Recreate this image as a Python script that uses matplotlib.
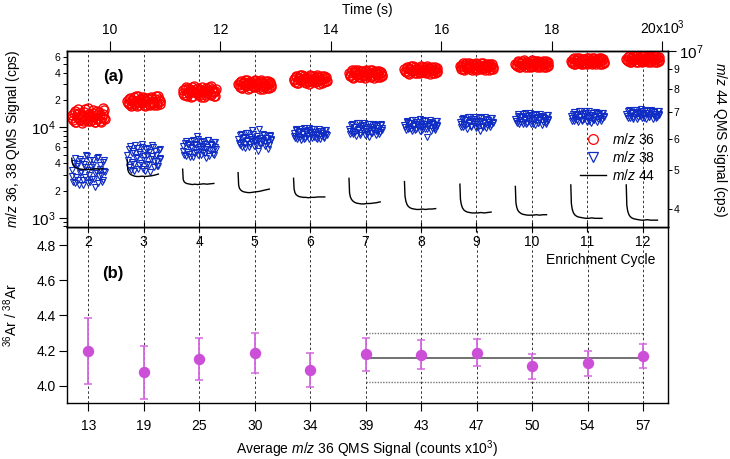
import numpy as np
import matplotlib
matplotlib.use('Agg')
import matplotlib.pyplot as plt
from matplotlib.lines import Line2D

plt.rcParams['font.family'] = ['Liberation Sans', 'DejaVu Sans']
plt.rcParams['mathtext.fontset'] = 'custom'
plt.rcParams['mathtext.rm'] = 'Liberation Sans'
plt.rcParams['mathtext.it'] = 'Liberation Sans:italic'
plt.rcParams['font.size'] = 10

# enrichment cycles and isotope ratio (panel b)
cycles = [2, 3, 4, 5, 6, 7, 8, 9, 10, 11, 12]
avg_36 = [13, 19, 25, 30, 34, 39, 43, 47, 50, 54, 57]   # counts x10^3
ratio = [4.197, 4.076, 4.150, 4.188, 4.089, 4.178, 4.176, 4.188, 4.110, 4.127, 4.171]
ratio_err = [0.190, 0.150, 0.120, 0.113, 0.098, 0.093, 0.083, 0.078, 0.071, 0.070, 0.069]
fit_cycles = [7, 12]
fit_mean = 4.16
fit_lo = 4.02
fit_hi = 4.30

# mid-time of each measurement window (s)
cycle_time = [9607, 10611, 11615, 12619, 13623, 14627, 15631, 16635, 17639, 18643, 19647]

# scan times relative to window middle (s)
scan_offset = [-300, -274, -248, -222, -196, -170, -144, -118, -92, -66, -40, -14,
               12, 38, 64, 90, 116, 142, 168, 194, 220, 246, 272, 298,
               -287, -261, -235, -209, -183, -157, -131, -105, -79, -53, -27, -1,
               25, 51, 77, 103, 129, 155, 181, 207, 233, 259, 285, 292]

# m/z 36 signal, x10^3 cps
mz36 = [
    [13.8, 12.1, 15.2, 11.6, 13.0, 14.6, 12.4, 11.3, 13.5, 16.1, 12.8, 11.9, 14.1, 13.2, 12.0, 15.6, 11.5, 13.7, 12.6, 14.9, 11.8, 13.1, 16.4, 12.3,
     12.7, 14.3, 11.4, 13.9, 15.8, 12.2, 13.3, 11.7, 14.8, 12.5, 13.6, 16.2, 11.9, 12.9, 14.5, 13.0, 11.6, 15.1, 12.4, 13.8, 11.4, 14.2, 12.8, 15.4],
    [19.4, 18.1, 21.3, 17.6, 20.2, 18.8, 22.1, 17.3, 19.0, 20.7, 18.4, 21.8, 17.9, 19.6, 20.9, 18.2, 17.5, 21.0, 19.2, 18.6, 22.4, 17.8, 20.4, 19.8,
     18.5, 20.6, 17.4, 19.9, 21.7, 18.0, 19.3, 22.2, 17.7, 20.1, 18.9, 21.2, 17.2, 19.5, 20.5, 18.3, 21.5, 19.1, 17.6, 20.8, 18.7, 22.0, 19.7, 18.2],
    [25.6, 23.1, 27.9, 22.4, 24.8, 26.7, 21.8, 25.2, 28.4, 23.7, 24.3, 27.1, 22.9, 26.0, 25.0, 21.6, 27.5, 24.1, 26.4, 23.3, 28.7, 24.6, 22.2, 26.9,
     24.0, 26.3, 22.6, 27.3, 23.9, 25.5, 28.2, 22.0, 24.7, 26.8, 23.5, 25.8, 21.9, 27.7, 24.4, 26.1, 22.7, 25.3, 28.0, 23.0, 26.6, 24.9, 22.5, 25.1],
    [30.4, 28.1, 32.9, 27.2, 31.5, 29.3, 33.6, 26.9, 30.0, 31.9, 28.6, 27.7, 32.3, 29.8, 30.9, 26.6, 33.1, 28.9, 31.2, 29.0, 27.4, 32.6, 30.6, 28.3,
     29.1, 31.8, 27.5, 30.7, 33.3, 28.4, 29.6, 32.1, 27.0, 31.0, 28.8, 33.8, 27.9, 30.2, 32.8, 28.2, 31.4, 26.8, 29.4, 32.4, 30.3, 27.6, 31.6, 29.2],
    [34.5, 32.0, 37.2, 30.8, 35.6, 33.1, 38.1, 31.4, 34.0, 36.3, 32.6, 30.4, 36.9, 33.7, 35.1, 31.9, 37.7, 32.9, 35.9, 33.4, 30.6, 36.6, 34.8, 32.3,
     33.3, 36.1, 31.2, 35.3, 37.9, 32.4, 34.2, 36.8, 30.9, 35.4, 32.8, 38.3, 31.7, 34.6, 37.4, 32.1, 35.8, 30.5, 33.6, 37.0, 34.4, 31.5, 36.2, 33.0],
    [39.6, 36.8, 42.7, 35.4, 40.5, 37.9, 43.5, 36.1, 39.0, 41.8, 37.3, 35.6, 42.1, 38.5, 40.2, 36.4, 43.1, 38.0, 41.2, 38.8, 35.9, 42.4, 39.9, 37.0,
     38.3, 41.4, 36.0, 40.8, 43.2, 37.5, 39.3, 42.0, 35.7, 40.6, 37.8, 43.6, 36.6, 39.6, 42.8, 37.1, 41.0, 35.5, 38.7, 42.3, 39.4, 36.3, 41.5, 38.1],
    [43.7, 40.6, 46.9, 39.3, 44.8, 41.9, 47.6, 40.1, 43.1, 45.9, 41.2, 39.6, 46.3, 42.5, 44.2, 40.3, 47.2, 42.0, 45.3, 42.8, 39.8, 46.6, 43.9, 40.9,
     42.3, 45.5, 40.0, 44.5, 47.3, 41.6, 43.4, 46.1, 39.5, 44.6, 41.5, 47.6, 40.5, 43.6, 46.8, 41.1, 45.0, 39.4, 42.7, 46.4, 43.5, 40.2, 45.6, 42.1],
    [47.6, 44.4, 51.1, 43.2, 48.7, 45.8, 51.8, 43.9, 47.0, 50.0, 45.1, 43.5, 50.5, 46.4, 48.2, 44.1, 51.4, 45.9, 49.3, 46.7, 43.6, 50.8, 47.9, 44.7,
     46.2, 49.6, 43.9, 48.5, 51.5, 45.4, 47.3, 50.2, 43.4, 48.6, 45.3, 51.8, 44.3, 47.6, 51.0, 44.9, 49.1, 43.2, 46.6, 50.6, 47.5, 44.0, 49.7, 46.0],
    [50.7, 47.3, 54.3, 46.1, 51.8, 48.7, 55.0, 46.8, 50.0, 53.2, 48.0, 46.4, 53.7, 49.4, 51.3, 47.0, 54.6, 48.9, 52.4, 49.7, 46.5, 54.0, 50.9, 47.6,
     49.3, 52.8, 46.8, 51.6, 54.7, 48.4, 50.4, 53.5, 46.3, 51.8, 48.3, 55.0, 47.2, 50.7, 54.2, 47.8, 52.3, 46.1, 49.7, 53.8, 50.6, 46.9, 52.9, 49.1],
    [54.7, 51.1, 58.5, 49.8, 55.9, 52.6, 59.3, 50.5, 54.0, 57.4, 51.8, 50.1, 57.9, 53.3, 55.4, 50.8, 58.9, 52.8, 56.6, 53.6, 50.2, 58.2, 55.0, 51.4,
     53.1, 56.9, 50.4, 55.6, 59.0, 52.1, 54.3, 57.6, 49.9, 55.8, 52.0, 59.3, 50.9, 54.6, 58.4, 51.5, 56.3, 49.8, 53.5, 57.9, 54.5, 50.6, 57.0, 52.9],
    [57.8, 53.9, 61.9, 52.4, 59.0, 55.5, 62.7, 53.2, 57.0, 60.6, 54.6, 52.8, 61.2, 56.2, 58.5, 53.5, 62.3, 55.7, 59.8, 56.6, 52.6, 61.5, 58.1, 54.2,
     56.0, 60.1, 53.2, 58.7, 62.4, 55.0, 57.3, 60.9, 52.7, 58.9, 54.9, 62.7, 53.8, 57.6, 61.7, 54.4, 59.4, 52.5, 56.5, 61.2, 57.5, 53.4, 60.2, 55.8],
]

# m/z 38 signal, x10^3 cps
mz38 = [
    [3.4, 2.5, 4.6, 2.8, 3.9, 2.3, 3.1, 4.2, 2.6, 3.6, 4.9, 2.4, 3.0, 4.4, 2.7, 3.8, 2.2, 3.3, 4.7, 2.9, 3.5, 2.5, 4.1, 3.2,
     2.9, 4.0, 2.4, 3.7, 2.6, 4.5, 3.2, 2.3, 3.9, 2.8, 4.8, 3.4, 2.5, 3.6, 4.3, 2.7, 3.1, 4.6, 2.4, 3.8, 3.0, 2.6, 4.4, 3.3],
    [4.9, 3.6, 6.2, 4.1, 5.5, 3.3, 4.6, 5.9, 3.8, 5.1, 6.5, 3.5, 4.4, 5.7, 3.9, 5.3, 3.2, 4.8, 6.0, 4.2, 5.0, 3.7, 5.6, 4.5,
     4.3, 5.8, 3.4, 5.2, 3.9, 6.3, 4.7, 3.5, 5.4, 4.0, 6.1, 4.8, 3.3, 5.0, 5.9, 3.8, 4.5, 6.4, 3.6, 5.5, 4.2, 3.7, 5.8, 4.6],
    [6.2, 5.0, 7.1, 5.4, 6.6, 4.7, 6.0, 7.3, 5.2, 6.4, 8.1, 4.9, 5.8, 6.9, 5.3, 6.5, 4.6, 6.1, 7.2, 5.6, 6.3, 5.1, 6.8, 5.7,
     5.5, 6.7, 4.8, 6.3, 5.1, 7.0, 5.9, 4.7, 6.6, 5.3, 7.4, 6.0, 4.9, 6.2, 7.1, 5.2, 5.7, 7.2, 4.8, 6.5, 5.6, 5.0, 6.9, 6.1],
    [7.4, 6.4, 8.4, 6.8, 7.8, 5.9, 7.1, 8.7, 6.6, 7.5, 9.4, 6.2, 7.0, 8.1, 5.5, 7.7, 6.5, 7.3, 8.3, 6.9, 7.6, 5.8, 8.0, 7.2,
     6.7, 8.2, 6.1, 7.6, 6.5, 8.6, 7.2, 6.0, 7.9, 6.8, 8.5, 7.3, 6.3, 7.5, 9.6, 6.6, 7.0, 8.4, 6.2, 7.7, 6.9, 6.4, 8.2, 7.4],
    [8.6, 7.6, 9.5, 7.9, 9.0, 7.3, 8.4, 9.8, 7.7, 8.8, 9.3, 7.5, 8.2, 9.6, 7.8, 8.9, 7.4, 8.5, 9.2, 8.0, 8.7, 7.6, 9.4, 8.3,
     8.1, 9.3, 7.5, 8.9, 7.8, 9.7, 8.4, 7.4, 9.1, 8.0, 9.9, 8.6, 7.6, 8.8, 9.5, 7.7, 8.3, 9.6, 7.5, 9.0, 8.2, 7.8, 9.4, 8.5],
    [9.7, 8.5, 10.8, 8.9, 10.2, 8.1, 9.4, 11.2, 8.7, 9.9, 10.6, 8.3, 9.2, 11.0, 7.9, 10.0, 8.6, 9.6, 10.5, 9.0, 9.8, 8.4, 10.9, 9.3,
     9.1, 10.6, 8.4, 10.1, 8.8, 11.1, 9.5, 8.2, 10.4, 9.0, 11.3, 9.7, 8.5, 10.0, 10.8, 8.7, 9.4, 11.0, 8.3, 10.3, 9.2, 8.8, 10.7, 9.8],
    [10.7, 9.4, 11.9, 9.8, 11.2, 9.1, 10.4, 12.2, 9.6, 10.9, 11.6, 9.2, 10.2, 12.0, 9.5, 11.0, 7.9, 10.6, 11.5, 9.9, 10.8, 9.3, 11.8, 10.3,
     10.1, 11.6, 9.5, 11.1, 9.7, 12.1, 10.6, 9.3, 11.4, 10.0, 12.3, 10.8, 9.4, 11.0, 11.8, 9.6, 10.4, 12.0, 9.2, 11.3, 10.2, 9.8, 11.7, 10.7],
    [11.5, 10.1, 12.8, 10.5, 12.1, 9.7, 11.2, 13.0, 10.3, 11.7, 12.5, 9.9, 11.0, 12.9, 9.2, 11.8, 10.2, 11.4, 12.4, 10.6, 11.6, 10.0, 12.7, 11.1,
     10.9, 12.5, 10.2, 12.0, 10.5, 13.0, 11.4, 10.0, 12.3, 10.8, 13.1, 11.6, 10.1, 11.9, 12.7, 10.4, 11.3, 12.9, 9.9, 12.2, 11.0, 10.6, 12.6, 11.5],
    [12.5, 11.1, 13.9, 11.5, 13.2, 10.8, 12.2, 14.3, 11.3, 12.7, 13.6, 10.9, 12.0, 14.1, 10.6, 12.9, 11.2, 12.4, 13.5, 11.6, 12.6, 11.0, 13.8, 12.1,
     11.8, 13.4, 11.0, 12.9, 11.4, 14.2, 12.3, 10.8, 13.3, 11.7, 14.4, 12.5, 11.0, 12.8, 13.7, 11.3, 12.2, 14.0, 10.7, 13.1, 12.0, 11.5, 13.6, 12.4],
    [13.3, 11.9, 14.7, 12.3, 14.0, 11.5, 13.0, 15.1, 12.1, 13.5, 14.4, 11.6, 12.8, 15.0, 11.1, 13.7, 12.0, 13.2, 14.3, 12.4, 13.4, 11.8, 14.6, 12.9,
     12.6, 14.2, 11.9, 13.8, 12.2, 15.0, 13.2, 11.7, 14.1, 12.5, 15.2, 13.4, 11.8, 13.7, 14.6, 12.1, 13.0, 14.9, 11.6, 14.0, 12.8, 12.3, 14.5, 13.3],
    [14.1, 12.8, 15.4, 13.2, 14.8, 12.4, 13.8, 15.7, 13.0, 14.3, 15.1, 12.6, 13.6, 15.6, 12.3, 14.5, 12.9, 14.0, 15.0, 13.3, 14.2, 12.7, 15.3, 13.7,
     13.4, 15.0, 12.7, 14.6, 13.0, 15.6, 14.0, 12.5, 14.9, 13.3, 15.8, 14.2, 12.6, 14.4, 15.3, 12.9, 13.8, 15.5, 12.4, 14.7, 13.5, 13.1, 15.2, 14.1],
]

# m/z 44 trace, x10^6 cps
m44_offset = [-300, -290, -275, -255, -230, -200, -165, -125, -80, -30, 20, 80, 140, 200, 265]
mz44 = [
    [5.36, 5.22, 5.15, 5.11, 5.08, 5.06, 5.04, 5.03, 5.02, 5.03, 5.02, 5.03, 5.04, 5.03, 5.05],
    [5.31, 5.02, 4.95, 4.90, 4.87, 4.85, 4.83, 4.82, 4.82, 4.83, 4.82, 4.83, 4.84, 4.86, 4.89],
    [5.03, 4.74, 4.68, 4.65, 4.63, 4.62, 4.61, 4.60, 4.61, 4.60, 4.61, 4.62, 4.61, 4.62, 4.63],
    [4.93, 4.58, 4.50, 4.46, 4.43, 4.41, 4.40, 4.39, 4.39, 4.40, 4.41, 4.42, 4.44, 4.46, 4.48],
    [4.77, 4.48, 4.39, 4.34, 4.31, 4.29, 4.28, 4.27, 4.27, 4.26, 4.27, 4.27, 4.28, 4.28, 4.28],
    [4.77, 4.38, 4.28, 4.22, 4.18, 4.15, 4.13, 4.12, 4.11, 4.11, 4.12, 4.12, 4.13, 4.14, 4.16],
    [4.68, 4.30, 4.18, 4.10, 4.05, 4.02, 4.00, 3.99, 3.98, 3.98, 3.99, 3.98, 3.99, 3.99, 4.00],
    [4.61, 4.22, 4.10, 4.02, 3.97, 3.94, 3.92, 3.91, 3.90, 3.90, 3.90, 3.91, 3.90, 3.91, 3.92],
    [4.55, 4.14, 4.03, 3.96, 3.92, 3.89, 3.87, 3.86, 3.85, 3.85, 3.85, 3.86, 3.85, 3.86, 3.86],
    [4.59, 4.12, 3.99, 3.91, 3.86, 3.83, 3.81, 3.80, 3.79, 3.78, 3.78, 3.79, 3.78, 3.78, 3.78],
    [4.59, 4.08, 3.95, 3.87, 3.82, 3.79, 3.77, 3.76, 3.75, 3.74, 3.74, 3.75, 3.74, 3.74, 3.74],
]

red = '#ff0000'
blue = '#0f2cc4'
violet = '#cc4fd8'

fig = plt.figure(figsize=(7.3, 4.59), dpi=100)
ax2 = fig.add_axes([0.0914, 0.1214, 0.8230, 0.3830])
ax1 = fig.add_axes([0.0914, 0.5044, 0.8230, 0.3845])
ax2.patch.set_visible(False)

# ---- panel (a)
for i in range(len(cycles)):
    t = cycle_time[i] + np.array(scan_offset)
    ax1.plot(t, np.array(mz36[i]) * 1e3, 'o', ls='none', mfc='none', mec=red, mew=1.0, ms=6.5, zorder=3)
    ax1.plot(t, np.array(mz38[i]) * 1e3, 'v', ls='none', mfc='none', mec=blue, mew=0.8, ms=5.0, zorder=3)
for ct in cycle_time:
    ax1.axvline(ct, color='#333333', ls=(0, (2.5, 2.5)), lw=0.7, zorder=0)

ax1.set_yscale('log')
ax1.set_ylim(780, 7.0e4)
ax1.set_xlim(9216, 20094)
ax1.set_yticks([1e3, 1e4], labels=['$10^3$', '$10^4$'])
minor_pos, minor_lab = [], []
for dec in [1e2, 1e3, 1e4]:
    for m in range(2, 10):
        v = m * dec
        if 780 < v < 7.0e4:
            minor_pos.append(v)
            minor_lab.append(str(m) if m in (2, 4, 6) else '')
ax1.set_yticks(minor_pos, labels=minor_lab, minor=True)
ax1.tick_params(axis='y', which='major', direction='out', length=6, width=0.8, pad=2, labelsize=11)
ax1.tick_params(axis='y', which='minor', direction='out', length=3, width=0.7, pad=1.5, labelsize=7.5)
ax1.set_xticks(cycle_time, labels=[str(c) for c in cycles])
ax1.tick_params(axis='x', which='both', direction='inout', length=7, width=0.8, pad=2, labelsize=10)
ax1.xaxis.set_minor_locator(matplotlib.ticker.NullLocator())
ax1.set_ylabel('$m/z$ 36, 38 QMS Signal (cps)', fontsize=10)
ax1.yaxis.set_label_coords(-0.075, 0.5)
ax1.text(0.077, 0.858, '(a)', transform=ax1.transAxes, fontsize=12, fontweight='bold',
         ha='center', va='center')

# time axis on top
secax = ax1.secondary_xaxis('top')
secax.set_xticks([10000, 12000, 14000, 16000, 18000, 20000],
                 labels=['10', '12', '14', '16', '18', '20x10$^3$'])
secax.tick_params(direction='out', length=7, width=0.8, pad=3, labelsize=10)
secax.set_xlabel('Time (s)', fontsize=10, labelpad=3)

# m/z 44 on right axis
axr = ax1.twinx()
for i in range(len(cycles)):
    t = cycle_time[i] + np.array(m44_offset)
    axr.plot(t, np.array(mz44[i]) * 1e6, color='black', lw=1.0)
axr.set_yscale('log')
axr.set_ylim(3.584e6, 1e7)
axr.set_yticks([1e7], labels=['$10^7$'])
axr.set_yticks([4e6, 5e6, 6e6, 7e6, 8e6, 9e6], labels=['4', '5', '6', '7', '8', '9'], minor=True)
axr.tick_params(axis='y', which='major', direction='out', length=6, width=0.8, pad=2, labelsize=11)
axr.tick_params(axis='y', which='minor', direction='out', length=3, width=0.7, pad=1.5, labelsize=7.5)
axr.set_ylabel('$m/z$ 44 QMS Signal (cps)', fontsize=10, rotation=270, va='bottom')
axr.yaxis.set_label_coords(1.072, 0.5)

handles = [
    Line2D([], [], marker='o', ls='none', mfc='none', mec=red, mew=0.9, ms=7),
    Line2D([], [], marker='v', ls='none', mfc='none', mec=blue, mew=0.9, ms=6.5),
    Line2D([], [], color='black', lw=1.0),
]
fig.legend(handles, ['$m/z$ 36', '$m/z$ 38', '$m/z$ 44'], loc='upper left',
           bbox_to_anchor=(580 / 730, 1 - 132 / 459), frameon=False, borderpad=0,
           borderaxespad=0, handlelength=1.87, handletextpad=0.45, labelspacing=0.2,
           fontsize=10)

# ---- panel (b)
for c in cycles:
    ax2.axvline(c, color='#333333', ls=(0, (2.5, 2.5)), lw=0.7, zorder=0)
ax2.plot(fit_cycles, [fit_mean, fit_mean], color='#666666', lw=1.3, zorder=1)
ax2.plot(fit_cycles, [fit_hi, fit_hi], color='#777777', ls=(0, (1, 1)), lw=1.0, zorder=1)
ax2.plot(fit_cycles, [fit_lo, fit_lo], color='#777777', ls=(0, (1, 1)), lw=1.0, zorder=1)
ax2.errorbar(cycles, ratio, yerr=ratio_err, fmt='o', color=violet, ecolor='#d368e0',
             ms=7.2, elinewidth=1.3, capsize=3.2, capthick=1.1, zorder=3)

ax2.set_xlim(1.611, 12.442)
ax2.set_ylim(3.9, 4.9)
ax2.set_xticks(cycles, labels=[str(a) for a in avg_36])
ax2.set_yticks([4.0, 4.2, 4.4, 4.6, 4.8], labels=['4.0', '4.2', '4.4', '4.6', '4.8'])
ax2.tick_params(axis='x', direction='out', length=6, width=0.8, pad=5, labelsize=10, top=False)
ax2.tick_params(axis='y', direction='out', length=6, width=0.8, pad=2, labelsize=10)
ax2.set_xlabel('Average $m/z$ 36 QMS Signal (counts x10$^3$)', fontsize=10, labelpad=4)
ax2.set_ylabel('$^{36}$Ar / $^{38}$Ar', fontsize=10)
ax2.yaxis.set_label_coords(-0.077, 0.5)
ax2.text(0.077, 0.74, '(b)', transform=ax2.transAxes, fontsize=12, fontweight='bold',
         ha='center', va='center')
ax2.text(0.98, 0.814, 'Enrichment Cycle', transform=ax2.transAxes, fontsize=10,
         ha='right', va='center')

for ax in (ax1, ax2, axr):
    for s in ax.spines.values():
        s.set_linewidth(1.0)

fig.savefig('out.png', dpi=100)
